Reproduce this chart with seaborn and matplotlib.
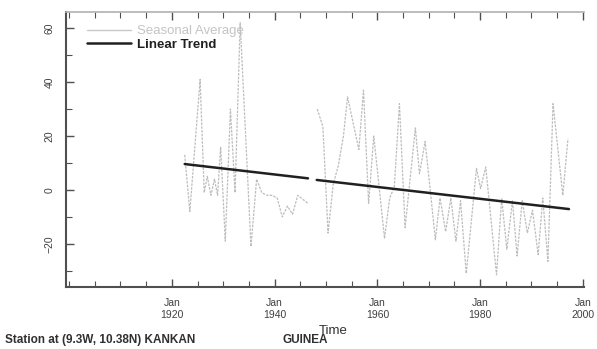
import matplotlib

matplotlib.use("Agg")
import matplotlib.pyplot as plt
import pandas as pd
import seaborn as sns
from matplotlib.lines import Line2D
from matplotlib.ticker import FixedLocator, MultipleLocator

# seasonal average, two record blocks separated by a gap in the late 1940s
years_a = [1922.5, 1923.5, 1925.5, 1926.3, 1926.9, 1927.6, 1928.3, 1928.9,
           1929.5, 1930.4, 1931.4, 1932.3, 1933.3, 1935.4, 1936.5, 1937.5,
           1938.5, 1939.5, 1940.5, 1941.5, 1942.5, 1943.5, 1944.5, 1946.5]
values_a = [13, -8, 41, -1, 5, -2, 4, -2,
            16, -19, 30, -1, 62, -21, 4, -1,
            -2, -2, -3, -10, -6, -9, -2, -5]

years_b = [1948.3, 1949.4, 1950.4, 1951.4, 1952.4, 1953.4, 1954.2, 1956.4,
           1957.3, 1958.3, 1959.3, 1961.4, 1962.4, 1963.3, 1964.3, 1965.4,
           1967.4, 1968.2, 1969.3, 1971.3, 1972.2, 1973.3, 1974.3, 1975.3,
           1976.2, 1977.3, 1979.3, 1980.1, 1981.1, 1983.2, 1984.2, 1985.2,
           1986.3, 1987.2, 1988.2, 1989.2, 1990.2, 1991.3, 1992.2, 1993.2,
           1994.2, 1996.1, 1997.1]
values_b = [30, 23.5, -16, 2, 9, 20, 34.5, 15,
            37, -5, 20, -18, -3, 1, 32, -14,
            23, 6, 18, -18.5, -3, -15.5, -3, -19,
            -4, -31, 8, 0.5, 8.5, -31.5, -3, -22,
            -4, -24.5, -4, -16, -7.5, -24, -3, -26.5,
            32, -2, 19]

# linear trend, broken at the same gap
trend_years_a = [1922.5, 1946.5]
trend_values_a = [9.6, 4.3]
trend_years_b = [1948.2, 1997.3]
trend_values_b = [3.7, -7.1]

x_ticks = [1920, 1940, 1960, 1980, 2000]
x_tick_labels = ["Jan\n1920", "Jan\n1940", "Jan\n1960", "Jan\n1980", "Jan\n2000"]
y_ticks = [-20, 0, 20, 40, 60]

season = pd.DataFrame({
    "year": years_a + years_b,
    "value": values_a + values_b,
    "block": ["a"] * len(years_a) + ["b"] * len(years_b),
})
trend = pd.DataFrame({
    "year": trend_years_a + trend_years_b,
    "value": trend_values_a + trend_values_b,
    "block": ["a"] * 2 + ["b"] * 2,
})

sns.set_theme(style="white")
plt.rcParams["font.family"] = ["Liberation Sans", "DejaVu Sans"]

fig = plt.figure(figsize=(5.97, 3.49), dpi=100)
ax = fig.add_axes([0.1106, 0.1777, 0.8674, 0.7879])

sns.lineplot(data=season, x="year", y="value", units="block", estimator=None,
             sort=False, color="#bdbdbd", lw=0.9, linestyle=(0, (2.0, 1.0)), ax=ax)
sns.lineplot(data=trend, x="year", y="value", units="block", estimator=None,
             sort=False, color="#202020", lw=1.8, ax=ax)

ax.set_xlim(1899.4, 2000.2)
ax.set_ylim(-36, 66)

ax.xaxis.set_major_locator(FixedLocator(x_ticks))
ax.set_xticklabels(x_tick_labels)
ax.xaxis.set_minor_locator(MultipleLocator(5))
ax.yaxis.set_major_locator(FixedLocator(y_ticks))
ax.yaxis.set_minor_locator(MultipleLocator(10))
for lab in ax.get_yticklabels():
    lab.set_rotation(90)
    lab.set_va("center")

ax.tick_params(axis="both", which="both", direction="in", labelsize=7.5,
               labelcolor="#404040", color="#505050",
               top=True, bottom=True, left=True, right=True)
ax.tick_params(axis="both", which="major", length=6, width=1.0)
ax.tick_params(axis="both", which="minor", length=4, width=0.8)
ax.tick_params(axis="y", which="both", right=False, pad=8)
ax.tick_params(axis="x", pad=8)

for side in ["left", "bottom"]:
    ax.spines[side].set_color("#505050")
    ax.spines[side].set_linewidth(1.5)
ax.spines["top"].set_color("#b0b0b0")
ax.spines["top"].set_linewidth(1.2)
ax.spines["right"].set_visible(False)

ax.set_xlabel("Time", fontsize=9.5, labelpad=0, color="#303030")
ax.xaxis.set_label_coords(0.515, -0.14)
ax.set_ylabel("")

handles = [Line2D([], [], color="#c8c8c8", lw=1.0),
           Line2D([], [], color="#202020", lw=1.8)]
leg = ax.legend(handles, ["Seasonal Average", "Linear Trend"], loc="upper left",
                frameon=False, fontsize=9.5, handlelength=3.3, handletextpad=0.5,
                labelspacing=0.1, borderaxespad=0.6, bbox_to_anchor=(0.015, 1.0))
leg.get_texts()[0].set_color("#c4c4c4")
leg.get_texts()[1].set_color("#202020")
leg.get_texts()[1].set_fontweight("bold")

fig.text(0.008, 0.008, "Station at (9.3W, 10.38N) KANKAN", fontsize=8.5,
         fontweight="bold", color="#303030", ha="left", va="bottom")
fig.text(0.474, 0.008, "GUINEA", fontsize=8.5, fontweight="bold", color="#303030",
         ha="left", va="bottom")

fig.savefig("out.png", dpi=100)
